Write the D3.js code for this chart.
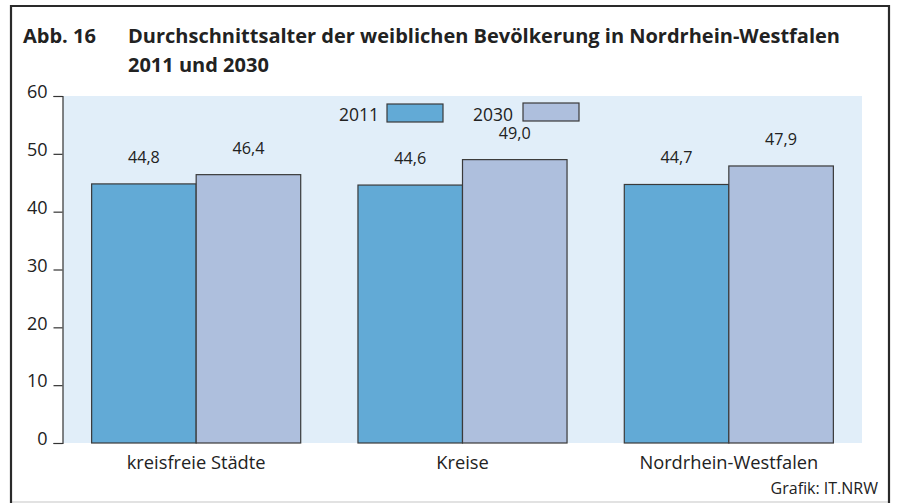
<!DOCTYPE html>
<html>
<head>
<meta charset="utf-8">
<script src="https://cdn.jsdelivr.net/npm/d3@7"></script>
<style>
  html, body { margin: 0; padding: 0; background: #fff; }
  svg { display: block; font-family: "Open Sans", "Noto Sans", sans-serif; }
</style>
</head>
<body>
<svg id="chart" width="898" height="503"></svg>
<script>
const categories = ["kreisfreie Städte", "Kreise", "Nordrhein-Westfalen"];
const seriesNames = ["2011", "2030"];
const values2011 = [44.8, 44.6, 44.7];
const values2030 = [46.4, 49.0, 47.9];
const yTicks = [0, 10, 20, 30, 40, 50, 60];
const seriesColors = ["#62aad6", "#aebfdd"];

const svg = d3.select("#chart");
const W = 898, H = 503;

// frame
svg.append("line").attr("x1", 10).attr("x2", 889).attr("y1", 502).attr("y2", 502)
  .attr("stroke", "#d8d8d8").attr("stroke-width", 1.5);
svg.append("path")
  .attr("d", "M11,503 V6 H889 V503")
  .attr("fill", "none").attr("stroke", "#2a2a2a").attr("stroke-width", 2.2);

// title
const title = svg.append("g").attr("font-weight", "bold").attr("fill", "#222").attr("font-size", 20);
title.append("text").attr("x", 23).attr("y", 43).text("Abb. 16");
title.append("text").attr("x", 128).attr("y", 43).text("Durchschnittsalter der weiblichen Bevölkerung in Nordrhein-Westfalen");
title.append("text").attr("x", 128).attr("y", 72).text("2011 und 2030");

const plot = { left: 63, right: 862, top: 96, bottom: 443 };

const y = d3.scaleLinear().domain([0, 60]).range([plot.bottom, plot.top]);
const x0 = d3.scaleBand().domain(categories).range([plot.left, plot.right]).paddingInner(0.215).paddingOuter(0.1075);
const x1 = d3.scaleBand().domain(seriesNames).range([0, x0.bandwidth()]);

svg.append("rect")
  .attr("x", plot.left).attr("y", plot.top)
  .attr("width", plot.right - plot.left).attr("height", plot.bottom - plot.top)
  .attr("fill", "#e1eef9");

// y axis
const yAxis = d3.axisLeft(y).tickValues(yTicks).tickSize(9).tickPadding(6);
const gy = svg.append("g").attr("transform", `translate(${plot.left - 0.5},0)`).call(yAxis);
gy.select(".domain").attr("stroke", "#333").attr("stroke-width", 1.2);
gy.selectAll(".tick line").attr("stroke", "#333").attr("stroke-width", 1.2);
gy.selectAll(".tick text").attr("font-size", 18).attr("fill", "#222")
  .attr("font-family", "'Open Sans', sans-serif").attr("dy", "0.1em");

// bars
const data = categories.map((c, i) => ({ cat: c, vals: [
  { s: seriesNames[0], v: values2011[i], col: seriesColors[0] },
  { s: seriesNames[1], v: values2030[i], col: seriesColors[1] }
]}));

const groups = svg.append("g").selectAll("g").data(data).join("g")
  .attr("transform", d => `translate(${x0(d.cat)},0)`);

groups.selectAll("rect").data(d => d.vals).join("rect")
  .attr("x", d => x1(d.s)).attr("y", d => y(d.v))
  .attr("width", x1.bandwidth()).attr("height", d => y(0) - y(d.v))
  .attr("fill", d => d.col).attr("stroke", "#3a3a3a").attr("stroke-width", 1.2);

groups.selectAll("text.val").data(d => d.vals).join("text")
  .attr("class", "val")
  .attr("x", d => x1(d.s) + x1.bandwidth() / 2)
  .attr("y", d => y(d.v) - 21)
  .attr("text-anchor", "middle").attr("font-size", 16.2).attr("fill", "#222")
  .text(d => d.v.toFixed(1).replace(".", ","));

// category labels
svg.append("g").selectAll("text").data(categories).join("text")
  .attr("x", d => x0(d) + x0.bandwidth() / 2).attr("y", 469)
  .attr("text-anchor", "middle").attr("font-size", 18.3).attr("fill", "#222")
  .text(d => d);

// legend
const legendPos = [{ tx: 379, rx: 387, ry: 104 }, { tx: 513, rx: 523, ry: 103 }];
seriesNames.forEach((s, i) => {
  const p = legendPos[i];
  svg.append("text").attr("x", p.tx).attr("y", 121).attr("text-anchor", "end")
    .attr("font-size", 17.5).attr("fill", "#222").text(s);
  svg.append("rect").attr("x", p.rx).attr("y", p.ry).attr("width", 56).attr("height", 18)
    .attr("fill", seriesColors[i]).attr("stroke", "#3a3a3a").attr("stroke-width", 1.2);
});

// source
svg.append("text").attr("x", 878).attr("y", 494).attr("text-anchor", "end")
  .attr("font-size", 16).attr("fill", "#222").text("Grafik: IT.NRW");
</script>
</body>
</html>
